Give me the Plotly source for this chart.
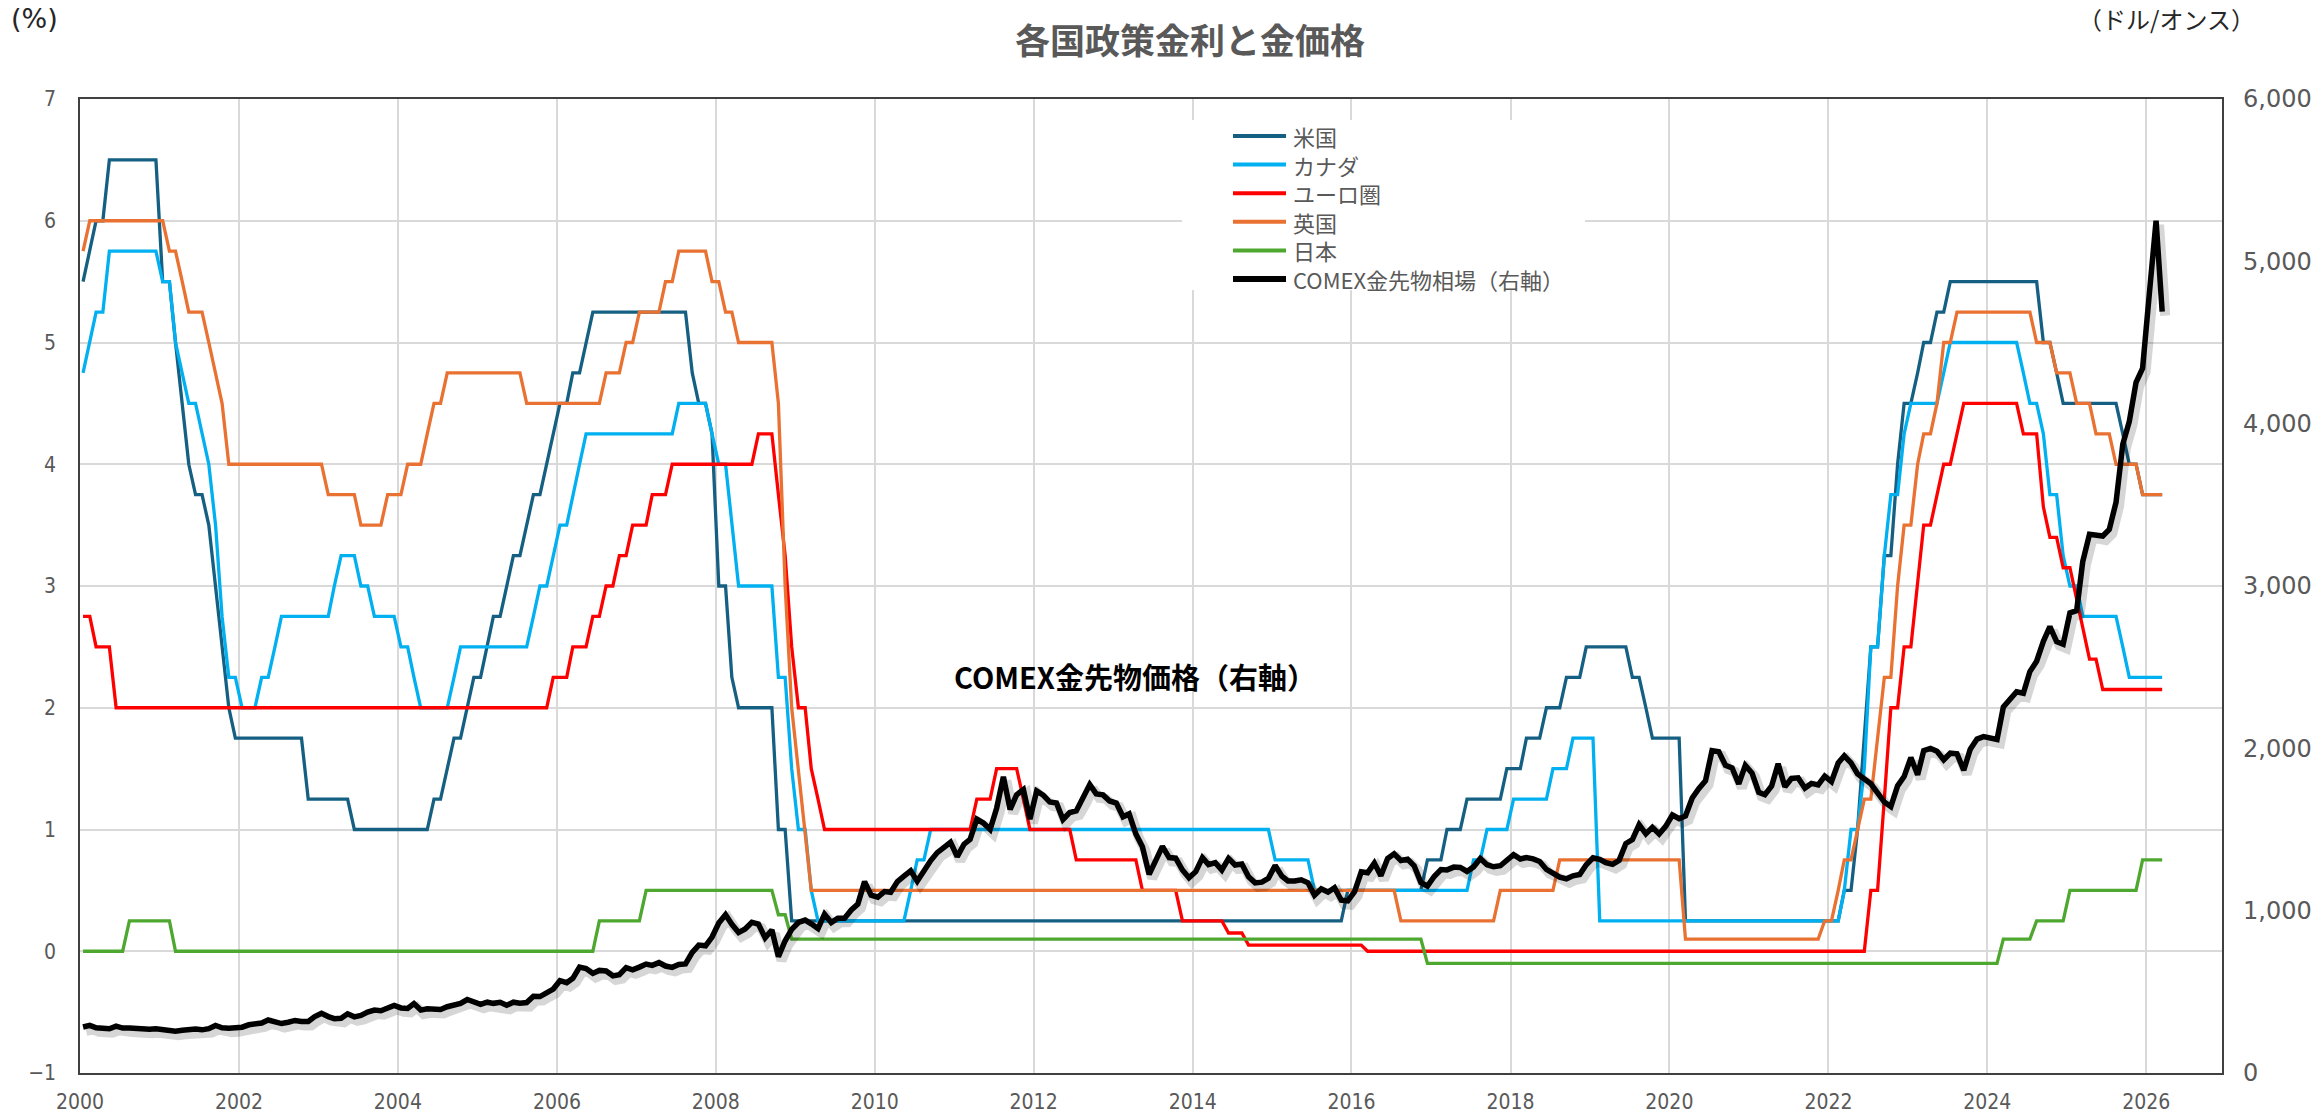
import pandas as pd
import plotly.graph_objects as go

# ---------------- data (monthly, Jan 2000 - Mar 2026; one row per year) ----------------
start_month = "2000-01-01"
end_month = "2026-03-01"

us_rate = [
    [5.5, 5.75, 6, 6, 6.5, 6.5, 6.5, 6.5, 6.5, 6.5, 6.5, 6.5],
    [5.5, 5.5, 5, 4.5, 4, 3.75, 3.75, 3.5, 3, 2.5, 2, 1.75],
    [1.75, 1.75, 1.75, 1.75, 1.75, 1.75, 1.75, 1.75, 1.75, 1.75, 1.25, 1.25],
    [1.25, 1.25, 1.25, 1.25, 1.25, 1, 1, 1, 1, 1, 1, 1],
    [1, 1, 1, 1, 1, 1.25, 1.25, 1.5, 1.75, 1.75, 2, 2.25],
    [2.25, 2.5, 2.75, 2.75, 3, 3.25, 3.25, 3.5, 3.75, 3.75, 4, 4.25],
    [4.5, 4.5, 4.75, 4.75, 5, 5.25, 5.25, 5.25, 5.25, 5.25, 5.25, 5.25],
    [5.25, 5.25, 5.25, 5.25, 5.25, 5.25, 5.25, 5.25, 4.75, 4.5, 4.5, 4.25],
    [3, 3, 2.25, 2, 2, 2, 2, 2, 2, 1, 1, 0.25],
    [0.25, 0.25, 0.25, 0.25, 0.25, 0.25, 0.25, 0.25, 0.25, 0.25, 0.25, 0.25],
    [0.25, 0.25, 0.25, 0.25, 0.25, 0.25, 0.25, 0.25, 0.25, 0.25, 0.25, 0.25],
    [0.25, 0.25, 0.25, 0.25, 0.25, 0.25, 0.25, 0.25, 0.25, 0.25, 0.25, 0.25],
    [0.25, 0.25, 0.25, 0.25, 0.25, 0.25, 0.25, 0.25, 0.25, 0.25, 0.25, 0.25],
    [0.25, 0.25, 0.25, 0.25, 0.25, 0.25, 0.25, 0.25, 0.25, 0.25, 0.25, 0.25],
    [0.25, 0.25, 0.25, 0.25, 0.25, 0.25, 0.25, 0.25, 0.25, 0.25, 0.25, 0.25],
    [0.25, 0.25, 0.25, 0.25, 0.25, 0.25, 0.25, 0.25, 0.25, 0.25, 0.25, 0.5],
    [0.5, 0.5, 0.5, 0.5, 0.5, 0.5, 0.5, 0.5, 0.5, 0.5, 0.5, 0.75],
    [0.75, 0.75, 1, 1, 1, 1.25, 1.25, 1.25, 1.25, 1.25, 1.25, 1.5],
    [1.5, 1.5, 1.75, 1.75, 1.75, 2, 2, 2, 2.25, 2.25, 2.25, 2.5],
    [2.5, 2.5, 2.5, 2.5, 2.5, 2.5, 2.25, 2.25, 2, 1.75, 1.75, 1.75],
    [1.75, 1.75, 0.25, 0.25, 0.25, 0.25, 0.25, 0.25, 0.25, 0.25, 0.25, 0.25],
    [0.25, 0.25, 0.25, 0.25, 0.25, 0.25, 0.25, 0.25, 0.25, 0.25, 0.25, 0.25],
    [0.25, 0.25, 0.5, 0.5, 1, 1.75, 2.5, 2.5, 3.25, 3.25, 4, 4.5],
    [4.5, 4.75, 5, 5, 5.25, 5.25, 5.5, 5.5, 5.5, 5.5, 5.5, 5.5],
    [5.5, 5.5, 5.5, 5.5, 5.5, 5.5, 5.5, 5.5, 5, 5, 4.75, 4.5],
    [4.5, 4.5, 4.5, 4.5, 4.5, 4.5, 4.5, 4.5, 4.25, 4, 4, 3.75],
    [3.75, 3.75, 3.75],
]

canada_rate = [
    [4.75, 5, 5.25, 5.25, 5.75, 5.75, 5.75, 5.75, 5.75, 5.75, 5.75, 5.75],
    [5.5, 5.5, 5, 4.75, 4.5, 4.5, 4.25, 4, 3.5, 2.75, 2.25, 2.25],
    [2, 2, 2, 2.25, 2.25, 2.5, 2.75, 2.75, 2.75, 2.75, 2.75, 2.75],
    [2.75, 2.75, 3, 3.25, 3.25, 3.25, 3, 3, 2.75, 2.75, 2.75, 2.75],
    [2.5, 2.5, 2.25, 2, 2, 2, 2, 2, 2.25, 2.5, 2.5, 2.5],
    [2.5, 2.5, 2.5, 2.5, 2.5, 2.5, 2.5, 2.5, 2.75, 3, 3, 3.25],
    [3.5, 3.5, 3.75, 4, 4.25, 4.25, 4.25, 4.25, 4.25, 4.25, 4.25, 4.25],
    [4.25, 4.25, 4.25, 4.25, 4.25, 4.25, 4.5, 4.5, 4.5, 4.5, 4.5, 4.25],
    [4, 4, 3.5, 3, 3, 3, 3, 3, 3, 2.25, 2.25, 1.5],
    [1, 1, 0.5, 0.25, 0.25, 0.25, 0.25, 0.25, 0.25, 0.25, 0.25, 0.25],
    [0.25, 0.25, 0.25, 0.25, 0.25, 0.5, 0.75, 0.75, 1, 1, 1, 1],
    [1, 1, 1, 1, 1, 1, 1, 1, 1, 1, 1, 1],
    [1, 1, 1, 1, 1, 1, 1, 1, 1, 1, 1, 1],
    [1, 1, 1, 1, 1, 1, 1, 1, 1, 1, 1, 1],
    [1, 1, 1, 1, 1, 1, 1, 1, 1, 1, 1, 1],
    [0.75, 0.75, 0.75, 0.75, 0.75, 0.75, 0.5, 0.5, 0.5, 0.5, 0.5, 0.5],
    [0.5, 0.5, 0.5, 0.5, 0.5, 0.5, 0.5, 0.5, 0.5, 0.5, 0.5, 0.5],
    [0.5, 0.5, 0.5, 0.5, 0.5, 0.5, 0.75, 0.75, 1, 1, 1, 1],
    [1.25, 1.25, 1.25, 1.25, 1.25, 1.25, 1.5, 1.5, 1.5, 1.75, 1.75, 1.75],
    [1.75, 0.25, 0.25, 0.25, 0.25, 0.25, 0.25, 0.25, 0.25, 0.25, 0.25, 0.25],
    [0.25, 0.25, 0.25, 0.25, 0.25, 0.25, 0.25, 0.25, 0.25, 0.25, 0.25, 0.25],
    [0.25, 0.25, 0.25, 0.25, 0.25, 0.25, 0.25, 0.25, 0.25, 0.25, 0.25, 0.25],
    [0.25, 0.25, 0.5, 1, 1, 1.5, 2.5, 2.5, 3.25, 3.75, 3.75, 4.25],
    [4.5, 4.5, 4.5, 4.5, 4.5, 4.75, 5, 5, 5, 5, 5, 5],
    [5, 5, 5, 5, 5, 4.75, 4.5, 4.5, 4.25, 3.75, 3.75, 3.25],
    [3, 3, 2.75, 2.75, 2.75, 2.75, 2.75, 2.75, 2.5, 2.25, 2.25, 2.25],
    [2.25, 2.25, 2.25],
]

euro_rate = [
    [2.75, 2.75, 2.5, 2.5, 2.5, 2, 2, 2, 2, 2, 2, 2],
    [2, 2, 2, 2, 2, 2, 2, 2, 2, 2, 2, 2],
    [2, 2, 2, 2, 2, 2, 2, 2, 2, 2, 2, 2],
    [2, 2, 2, 2, 2, 2, 2, 2, 2, 2, 2, 2],
    [2, 2, 2, 2, 2, 2, 2, 2, 2, 2, 2, 2],
    [2, 2, 2, 2, 2, 2, 2, 2, 2, 2, 2, 2.25],
    [2.25, 2.25, 2.5, 2.5, 2.5, 2.75, 2.75, 3, 3, 3.25, 3.25, 3.5],
    [3.5, 3.5, 3.75, 3.75, 3.75, 4, 4, 4, 4, 4, 4, 4],
    [4, 4, 4, 4, 4, 4, 4.25, 4.25, 4.25, 3.75, 3.25, 2.5],
    [2, 2, 1.5, 1.25, 1, 1, 1, 1, 1, 1, 1, 1],
    [1, 1, 1, 1, 1, 1, 1, 1, 1, 1, 1, 1],
    [1, 1, 1, 1.25, 1.25, 1.25, 1.5, 1.5, 1.5, 1.5, 1.25, 1],
    [1, 1, 1, 1, 1, 1, 0.75, 0.75, 0.75, 0.75, 0.75, 0.75],
    [0.75, 0.75, 0.75, 0.75, 0.5, 0.5, 0.5, 0.5, 0.5, 0.5, 0.25, 0.25],
    [0.25, 0.25, 0.25, 0.25, 0.25, 0.15, 0.15, 0.15, 0.05, 0.05, 0.05, 0.05],
    [0.05, 0.05, 0.05, 0.05, 0.05, 0.05, 0.05, 0.05, 0.05, 0.05, 0.05, 0.05],
    [0.05, 0.05, 0, 0, 0, 0, 0, 0, 0, 0, 0, 0],
    [0, 0, 0, 0, 0, 0, 0, 0, 0, 0, 0, 0],
    [0, 0, 0, 0, 0, 0, 0, 0, 0, 0, 0, 0],
    [0, 0, 0, 0, 0, 0, 0, 0, 0, 0, 0, 0],
    [0, 0, 0, 0, 0, 0, 0, 0, 0, 0, 0, 0],
    [0, 0, 0, 0, 0, 0, 0, 0, 0, 0, 0, 0],
    [0, 0, 0, 0, 0, 0, 0.5, 0.5, 1.25, 2, 2, 2.5],
    [2.5, 3, 3.5, 3.5, 3.75, 4, 4, 4.25, 4.5, 4.5, 4.5, 4.5],
    [4.5, 4.5, 4.5, 4.5, 4.5, 4.25, 4.25, 4.25, 3.65, 3.4, 3.4, 3.15],
    [3.15, 2.9, 2.65, 2.4, 2.4, 2.15, 2.15, 2.15, 2.15, 2.15, 2.15, 2.15],
    [2.15, 2.15, 2.15],
]

uk_rate = [
    [5.75, 6, 6, 6, 6, 6, 6, 6, 6, 6, 6, 6],
    [6, 5.75, 5.75, 5.5, 5.25, 5.25, 5.25, 5, 4.75, 4.5, 4, 4],
    [4, 4, 4, 4, 4, 4, 4, 4, 4, 4, 4, 4],
    [4, 3.75, 3.75, 3.75, 3.75, 3.75, 3.5, 3.5, 3.5, 3.5, 3.75, 3.75],
    [3.75, 4, 4, 4, 4.25, 4.5, 4.5, 4.75, 4.75, 4.75, 4.75, 4.75],
    [4.75, 4.75, 4.75, 4.75, 4.75, 4.75, 4.75, 4.5, 4.5, 4.5, 4.5, 4.5],
    [4.5, 4.5, 4.5, 4.5, 4.5, 4.5, 4.5, 4.75, 4.75, 4.75, 5, 5],
    [5.25, 5.25, 5.25, 5.25, 5.5, 5.5, 5.75, 5.75, 5.75, 5.75, 5.75, 5.5],
    [5.5, 5.25, 5.25, 5, 5, 5, 5, 5, 5, 4.5, 3, 2],
    [1.5, 1, 0.5, 0.5, 0.5, 0.5, 0.5, 0.5, 0.5, 0.5, 0.5, 0.5],
    [0.5, 0.5, 0.5, 0.5, 0.5, 0.5, 0.5, 0.5, 0.5, 0.5, 0.5, 0.5],
    [0.5, 0.5, 0.5, 0.5, 0.5, 0.5, 0.5, 0.5, 0.5, 0.5, 0.5, 0.5],
    [0.5, 0.5, 0.5, 0.5, 0.5, 0.5, 0.5, 0.5, 0.5, 0.5, 0.5, 0.5],
    [0.5, 0.5, 0.5, 0.5, 0.5, 0.5, 0.5, 0.5, 0.5, 0.5, 0.5, 0.5],
    [0.5, 0.5, 0.5, 0.5, 0.5, 0.5, 0.5, 0.5, 0.5, 0.5, 0.5, 0.5],
    [0.5, 0.5, 0.5, 0.5, 0.5, 0.5, 0.5, 0.5, 0.5, 0.5, 0.5, 0.5],
    [0.5, 0.5, 0.5, 0.5, 0.5, 0.5, 0.5, 0.25, 0.25, 0.25, 0.25, 0.25],
    [0.25, 0.25, 0.25, 0.25, 0.25, 0.25, 0.25, 0.25, 0.25, 0.25, 0.5, 0.5],
    [0.5, 0.5, 0.5, 0.5, 0.5, 0.5, 0.5, 0.75, 0.75, 0.75, 0.75, 0.75],
    [0.75, 0.75, 0.75, 0.75, 0.75, 0.75, 0.75, 0.75, 0.75, 0.75, 0.75, 0.75],
    [0.75, 0.75, 0.1, 0.1, 0.1, 0.1, 0.1, 0.1, 0.1, 0.1, 0.1, 0.1],
    [0.1, 0.1, 0.1, 0.1, 0.1, 0.1, 0.1, 0.1, 0.1, 0.1, 0.1, 0.25],
    [0.25, 0.5, 0.75, 0.75, 1, 1.25, 1.25, 1.75, 2.25, 2.25, 3, 3.5],
    [3.5, 4, 4.25, 4.25, 4.5, 5, 5, 5.25, 5.25, 5.25, 5.25, 5.25],
    [5.25, 5.25, 5.25, 5.25, 5.25, 5.25, 5.25, 5, 5, 5, 4.75, 4.75],
    [4.75, 4.5, 4.5, 4.5, 4.25, 4.25, 4.25, 4, 4, 4, 4, 3.75],
    [3.75, 3.75, 3.75],
]

japan_rate = [
    [0, 0, 0, 0, 0, 0, 0, 0.25, 0.25, 0.25, 0.25, 0.25],
    [0.25, 0.25, 0, 0, 0, 0, 0, 0, 0, 0, 0, 0],
    [0, 0, 0, 0, 0, 0, 0, 0, 0, 0, 0, 0],
    [0, 0, 0, 0, 0, 0, 0, 0, 0, 0, 0, 0],
    [0, 0, 0, 0, 0, 0, 0, 0, 0, 0, 0, 0],
    [0, 0, 0, 0, 0, 0, 0, 0, 0, 0, 0, 0],
    [0, 0, 0, 0, 0, 0, 0.25, 0.25, 0.25, 0.25, 0.25, 0.25],
    [0.25, 0.5, 0.5, 0.5, 0.5, 0.5, 0.5, 0.5, 0.5, 0.5, 0.5, 0.5],
    [0.5, 0.5, 0.5, 0.5, 0.5, 0.5, 0.5, 0.5, 0.5, 0.3, 0.3, 0.1],
    [0.1, 0.1, 0.1, 0.1, 0.1, 0.1, 0.1, 0.1, 0.1, 0.1, 0.1, 0.1],
    [0.1, 0.1, 0.1, 0.1, 0.1, 0.1, 0.1, 0.1, 0.1, 0.1, 0.1, 0.1],
    [0.1, 0.1, 0.1, 0.1, 0.1, 0.1, 0.1, 0.1, 0.1, 0.1, 0.1, 0.1],
    [0.1, 0.1, 0.1, 0.1, 0.1, 0.1, 0.1, 0.1, 0.1, 0.1, 0.1, 0.1],
    [0.1, 0.1, 0.1, 0.1, 0.1, 0.1, 0.1, 0.1, 0.1, 0.1, 0.1, 0.1],
    [0.1, 0.1, 0.1, 0.1, 0.1, 0.1, 0.1, 0.1, 0.1, 0.1, 0.1, 0.1],
    [0.1, 0.1, 0.1, 0.1, 0.1, 0.1, 0.1, 0.1, 0.1, 0.1, 0.1, 0.1],
    [0.1, 0.1, 0.1, 0.1, 0.1, 0.1, 0.1, 0.1, 0.1, 0.1, 0.1, -0.1],
    [-0.1, -0.1, -0.1, -0.1, -0.1, -0.1, -0.1, -0.1, -0.1, -0.1, -0.1, -0.1],
    [-0.1, -0.1, -0.1, -0.1, -0.1, -0.1, -0.1, -0.1, -0.1, -0.1, -0.1, -0.1],
    [-0.1, -0.1, -0.1, -0.1, -0.1, -0.1, -0.1, -0.1, -0.1, -0.1, -0.1, -0.1],
    [-0.1, -0.1, -0.1, -0.1, -0.1, -0.1, -0.1, -0.1, -0.1, -0.1, -0.1, -0.1],
    [-0.1, -0.1, -0.1, -0.1, -0.1, -0.1, -0.1, -0.1, -0.1, -0.1, -0.1, -0.1],
    [-0.1, -0.1, -0.1, -0.1, -0.1, -0.1, -0.1, -0.1, -0.1, -0.1, -0.1, -0.1],
    [-0.1, -0.1, -0.1, -0.1, -0.1, -0.1, -0.1, -0.1, -0.1, -0.1, -0.1, -0.1],
    [-0.1, -0.1, 0.1, 0.1, 0.1, 0.1, 0.1, 0.25, 0.25, 0.25, 0.25, 0.25],
    [0.5, 0.5, 0.5, 0.5, 0.5, 0.5, 0.5, 0.5, 0.5, 0.5, 0.5, 0.75],
    [0.75, 0.75, 0.75],
]

gold_price = [
    [283.3, 293.7, 278.4, 275.2, 272.3, 288.2, 276.8, 277.0, 273.7, 264.5, 269.1, 272.7],
    [265.6, 267.1, 257.7, 263.2, 267.5, 270.6, 265.9, 273.0, 293.1, 278.8, 275.5, 279.0],
    [282.3, 296.9, 301.4, 308.2, 326.6, 318.5, 304.7, 312.8, 323.7, 316.9, 317.7, 347.2],
    [367.5, 347.5, 334.9, 336.8, 364.5, 346.0, 354.8, 375.6, 388.0, 383.8, 398.4, 416.1],
    [400.8, 397.5, 427.5, 387.5, 395.8, 392.0, 391.4, 408.3, 418.5, 428.3, 452.6, 438.4],
    [423.2, 436.2, 429.1, 435.7, 416.9, 436.1, 430.0, 433.6, 472.6, 470.9, 495.6, 517.1],
    [568.6, 556.6, 583.3, 653.0, 644.1, 613.5, 632.0, 628.2, 598.5, 605.9, 648.8, 635.7],
    [652.3, 671.3, 663.0, 680.0, 659.1, 650.9, 668.0, 672.0, 742.8, 788.1, 783.7, 837.5],
    [923.8, 975.0, 916.2, 865.1, 887.3, 928.4, 917.8, 833.0, 880.8, 716.8, 814.5, 884.3],
    [927.3, 942.0, 919.1, 890.0, 978.8, 926.8, 953.4, 953.6, 1004.1, 1040.1, 1179.1, 1095.2],
    [1083.0, 1118.0, 1113.3, 1179.2, 1212.2, 1245.0, 1181.1, 1246.7, 1308.3, 1357.5, 1385.0, 1421.1],
    [1332.8, 1409.3, 1439.9, 1563.7, 1539.8, 1500.2, 1631.2, 1825.1, 1624.3, 1714.1, 1746.0, 1564.1],
    [1737.8, 1710.7, 1669.3, 1663.4, 1561.8, 1604.2, 1614.2, 1687.1, 1776.8, 1719.1, 1713.2, 1675.8],
    [1663.1, 1578.1, 1596.0, 1472.1, 1393.6, 1223.7, 1313.2, 1396.1, 1327.0, 1323.6, 1250.3, 1202.3],
    [1240.1, 1326.5, 1283.8, 1295.9, 1250.5, 1322.0, 1281.3, 1287.4, 1208.2, 1171.1, 1175.5, 1199.3],
    [1278.5, 1212.6, 1183.1, 1182.4, 1190.3, 1171.9, 1094.9, 1134.9, 1114.0, 1141.7, 1064.2, 1060.8],
    [1116.4, 1238.8, 1233.4, 1293.0, 1215.5, 1321.4, 1350.6, 1309.2, 1317.1, 1277.1, 1173.9, 1151.7],
    [1210.7, 1252.9, 1251.2, 1268.3, 1266.2, 1241.6, 1269.9, 1321.4, 1283.1, 1270.5, 1276.7, 1306.4],
    [1344.8, 1318.3, 1327.3, 1318.7, 1303.0, 1254.1, 1232.8, 1206.7, 1196.2, 1215.0, 1223.2, 1282.7],
    [1325.2, 1316.1, 1295.4, 1285.5, 1310.2, 1413.7, 1437.8, 1529.4, 1472.9, 1513.2, 1472.3, 1519.5],
    [1589.2, 1566.7, 1583.4, 1694.2, 1751.7, 1800.5, 1985.9, 1978.6, 1895.5, 1879.9, 1780.9, 1895.1],
    [1847.6, 1728.8, 1713.8, 1767.7, 1905.3, 1763.2, 1814.2, 1818.1, 1755.3, 1783.9, 1774.5, 1828.6],
    [1795.0, 1909.8, 1954.0, 1909.9, 1842.7, 1807.3, 1781.8, 1726.2, 1668.6, 1640.7, 1768.8, 1826.2],
    [1942.9, 1836.7, 1986.2, 1999.1, 1982.1, 1929.4, 1970.0, 1965.9, 1866.1, 1994.3, 2057.2, 2071.8],
    [2067.4, 2054.7, 2254.8, 2302.9, 2348.4, 2339.6, 2473.0, 2536.8, 2659.4, 2749.3, 2657.0, 2641.0],
    [2835.0, 2848.5, 3150.3, 3319.1, 3315.4, 3307.7, 3348.6, 3516.1, 3873.2, 4013.5, 4254.9, 4341.1],
    [4800.0, 5250.0, 4690.0],
]

series_names = ["米国", "カナダ", "ユーロ圏", "英国", "日本"]
gold_name = "COMEX金先物相場（右軸）"
title_text = "各国政策金利と金価格"
annotation_text = "COMEX金先物価格（右軸）"

# ---------------- styling ----------------
JP = "Noto Sans CJK JP"
NARROW = "Liberation Sans Narrow, Arial Narrow, DejaVu Sans Condensed, sans-serif"
WIDE = "DejaVu Sans, Verdana, sans-serif"
GRAY = "#595959"
colors = ["#156082", "#00B0F0", "#FF0000", "#E97132", "#4EA72E"]

W, H = 2323, 1117
ML, MR, MT, MB = 80, 101, 99, 44
PW, PH = W - ML - MR, H - MT - MB


def px_x(px):
    return (px - ML) / PW


def px_y(py):
    return 1 - (py - MT) / PH


def flat(rows):
    return [v for row in rows for v in row]


# mid-month positions
dates = pd.date_range(start_month, end_month, freq="MS") + pd.Timedelta(days=14)

x_range = ["2000-01-01", "2026-12-15"]
# shadow offsets (pixels -> axis units)
span_days = (pd.Timestamp(x_range[1]) - pd.Timestamp(x_range[0])).days
shift_days = pd.Timedelta(days=round(3 * span_days / PW))
shift_val = 4 * 6000 / PH

fig = go.Figure()
for name, rows, col in zip(series_names, [us_rate, canada_rate, euro_rate, uk_rate, japan_rate], colors):
    fig.add_trace(go.Scatter(x=dates, y=flat(rows), mode="lines", name=name, showlegend=False,
                             line=dict(color=col, width=3.3), xaxis="x", yaxis="y"))

# soft shadow of gold line (drawn on shifted hidden axes)
fig.add_trace(go.Scatter(x=dates, y=flat(gold_price), mode="lines", showlegend=False,
                         hoverinfo="skip", line=dict(color="rgba(0,0,0,0.16)", width=10),
                         xaxis="x2", yaxis="y2"))
fig.add_trace(go.Scatter(x=dates, y=flat(gold_price), mode="lines", name=gold_name, showlegend=False,
                         line=dict(color="#000000", width=5.5), xaxis="x3", yaxis="y3"))

# ---------------- legend (line samples + one multi-line text block) ----------------
legend_names = series_names + [gold_name]
legend_colors = colors + ["#000000"]
legend_widths = [4, 4, 4, 4, 4, 6]
LEG_FS = 22
row0, row_gap = 136, LEG_FS * 1.3
shapes = [dict(type="rect", xref="paper", yref="paper", layer="above",
               x0=px_x(1182), x1=px_x(1585), y0=px_y(290), y1=px_y(120),
               fillcolor="white", line=dict(width=0))]
for i, (col, lw) in enumerate(zip(legend_colors, legend_widths)):
    yy = px_y(row0 + i * row_gap)
    shapes.append(dict(type="line", xref="paper", yref="paper", layer="above",
                       x0=px_x(1233), x1=px_x(1286), y0=yy, y1=yy,
                       line=dict(color=col, width=lw)))

annotations = [
    dict(text="<br>".join(legend_names), xref="paper", yref="paper", x=px_x(1291),
         y=px_y(row0 + 2.5 * row_gap), xanchor="left", yanchor="middle", align="left",
         showarrow=False, font=dict(family=JP, size=LEG_FS, color=GRAY)),
    dict(text="(%)", xref="paper", yref="paper", x=px_x(9), y=px_y(18),
         xanchor="left", yanchor="middle", showarrow=False,
         font=dict(family=WIDE, size=27, color="#262626")),
    dict(text="（ドル/オンス）", xref="paper", yref="paper", x=px_x(2257), y=px_y(18),
         xanchor="right", yanchor="middle", showarrow=False,
         font=dict(family=JP, size=24, color="#262626")),
    dict(text="<b>" + annotation_text + "</b>", xref="paper", yref="paper",
         x=px_x(1135), y=px_y(676), xanchor="center", yanchor="middle",
         showarrow=False, font=dict(family=JP, size=29, color="#000000")),
]

fig.update_layout(
    width=W, height=H,
    margin=dict(l=ML, r=MR, t=MT, b=MB, autoexpand=False),
    plot_bgcolor="white", paper_bgcolor="white",
    title=dict(text=title_text, x=1190 / W, y=1 - 42 / H, xref="container", yref="container",
               xanchor="center", yanchor="middle",
               font=dict(family=JP, size=35, color=GRAY, weight="bold")),
    showlegend=False,
    hovermode=False,
    xaxis=dict(type="date", range=x_range, dtick="M24", tick0="2000-01-01", tickformat="%Y",
               showgrid=True, gridcolor="#D9D9D9", gridwidth=1.5,
               showline=True, mirror=True, linecolor="#404040", linewidth=1.5,
               ticks="", zeroline=False, automargin=False,
               tickfont=dict(family=NARROW, size=21, color=GRAY), ticklabelstandoff=9),
    yaxis=dict(range=[-1, 7], dtick=1, tick0=0, showgrid=True, gridcolor="#D9D9D9", gridwidth=1.5,
               showline=True, mirror=True, linecolor="#404040", linewidth=1.5,
               ticks="", zeroline=False, automargin=False,
               tickfont=dict(family=NARROW, size=21, color=GRAY), ticklabelstandoff=18),
    xaxis2=dict(type="date", overlaying="x", visible=False,
                range=[str((pd.Timestamp(x_range[0]) - shift_days).date()),
                       str((pd.Timestamp(x_range[1]) - shift_days).date())]),
    yaxis2=dict(overlaying="y", visible=False, range=[shift_val, 6000 + shift_val]),
    xaxis3=dict(type="date", overlaying="x", visible=False, range=x_range),
    yaxis3=dict(overlaying="y", side="right", anchor="x", range=[0, 6000], dtick=1000,
                tickformat=",d", showgrid=False, zeroline=False, ticks="", automargin=False,
                showline=False, tickfont=dict(family=WIDE, size=24, color=GRAY),
                ticklabelstandoff=20),
    shapes=shapes,
    annotations=annotations,
)

fig.write_html("out.html", config={"displayModeBar": False},
               post_script="document.body.style.margin='0';")
